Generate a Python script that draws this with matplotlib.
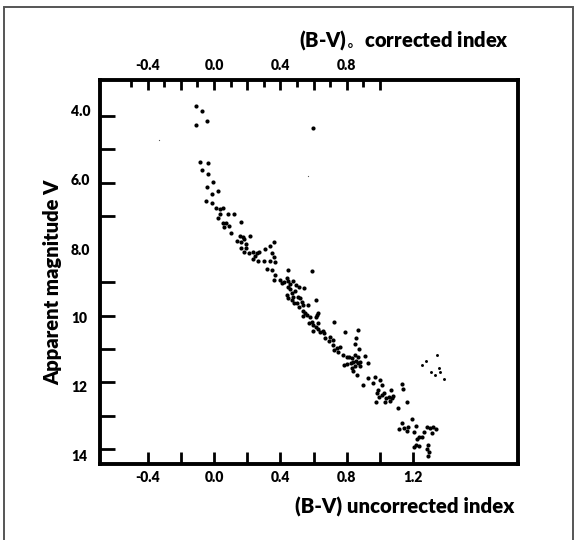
import numpy as np
import matplotlib
matplotlib.use("Agg")
import matplotlib.pyplot as plt
from matplotlib.patches import Rectangle

plt.rcParams['font.family'] = ['Lato', 'DejaVu Sans']
plt.rcParams['font.weight'] = 'heavy'

# (B-V) uncorrected index and apparent magnitude V
bv_bright = [-0.110, -0.070, -0.040, -0.110, 0.598]
v_bright = [3.69, 3.84, 4.15, 4.26, 4.37]

bv_ms = [-0.084, -0.036, -0.075, -0.038, -0.005, -0.040, 0.022, -0.012, -0.051, -0.012,
         0.012, 0.038, 0.054, 0.033, 0.086, 0.122, 0.024, 0.052, 0.071, 0.093,
         0.060, 0.163, 0.102, 0.157, 0.172, 0.183, 0.218, 0.137, 0.161, 0.190,
         0.163, 0.193, 0.181, 0.208, 0.232, 0.257, 0.272, 0.249, 0.237, 0.265,
         0.302, 0.309, 0.336, 0.360, 0.337, 0.351, 0.370, 0.363, 0.320, 0.352,
         0.369, 0.364, 0.395, 0.408, 0.423, 0.438, 0.448, 0.448, 0.458, 0.478,
         0.491, 0.448, 0.458, 0.468, 0.488, 0.438, 0.474, 0.508, 0.518, 0.448,
         0.468, 0.482, 0.498, 0.528, 0.514, 0.538, 0.568, 0.510, 0.544, 0.589,
         0.614, 0.538, 0.548, 0.558, 0.538, 0.578, 0.619, 0.628, 0.614, 0.574,
         0.589, 0.598, 0.614, 0.628, 0.595, 0.628, 0.639, 0.655, 0.663, 0.725,
         0.789, 0.869, 0.669, 0.699, 0.695, 0.719, 0.715, 0.723, 0.739, 0.759,
         0.749, 0.855, 0.849, 0.875, 0.779, 0.799, 0.815, 0.830, 0.849, 0.869,
         0.803, 0.783, 0.823, 0.839, 0.855, 0.880, 0.869, 0.849, 0.830, 0.839,
         0.860, 0.880, 0.910, 0.930, 0.899, 0.930, 0.970, 1.000, 1.010, 0.960,
         0.980, 0.990, 0.996, 0.976, 1.010, 1.024, 1.036, 1.030, 1.056, 1.064,
         1.070, 1.080, 1.060, 1.131, 1.140, 1.110, 1.164,
         1.131, 1.191, 1.116, 1.145, 1.170, 1.161, 1.217, 1.205, 1.285, 1.301,
         1.321, 1.337, 1.311, 1.265, 1.237, 1.225, 1.251, 1.217, 1.205, 1.237,
         1.291, 1.285, 1.297, 1.291]
v_ms = [5.38, 5.42, 5.62, 5.74, 5.99, 6.13, 6.24, 6.35, 6.55, 6.60,
        6.76, 6.80, 6.77, 6.93, 6.93, 6.95, 7.05, 7.20, 7.22, 7.29,
        7.33, 7.19, 7.52, 7.59, 7.64, 7.70, 7.59, 7.75, 7.77, 7.84,
        7.96, 7.97, 8.08, 8.10, 8.07, 8.12, 8.08, 8.20, 8.30, 8.34,
        8.35, 7.99, 7.89, 7.77, 8.34, 8.10, 8.38, 8.24, 8.59, 8.62,
        8.78, 8.94, 8.92, 9.03, 8.98, 8.86, 8.62, 8.97, 9.04, 8.95,
        9.08, 9.13, 9.19, 9.32, 9.26, 9.38, 9.43, 9.43, 9.47, 9.48,
        9.53, 9.63, 9.61, 9.58, 9.73, 9.68, 9.68, 9.13, 9.17, 8.66,
        9.54, 9.85, 9.92, 9.99, 10.02, 10.03, 9.98, 9.92, 10.05, 10.23,
        10.18, 10.28, 10.33, 10.23, 10.45, 10.41, 10.48, 10.45, 10.53, 10.20,
        10.49, 10.43, 10.68, 10.65, 10.76, 10.73, 10.88, 11.03, 10.98, 10.93,
        11.08, 10.68, 10.85, 11.01, 11.18, 11.23, 11.25, 11.28, 11.18, 11.23,
        11.45, 11.48, 11.43, 11.38, 11.35, 11.38, 11.43, 11.51, 11.58, 11.65,
        11.78, 11.51, 11.21, 11.43, 12.08, 11.88, 11.85, 11.93, 12.08, 12.03,
        12.33, 12.23, 12.43, 12.58, 12.38, 12.33, 12.48, 12.58, 12.43, 12.23,
        12.47, 12.42, 12.57, 12.06, 12.21, 12.78, 12.58,
        13.21, 13.10, 13.41, 13.38, 13.35, 13.45, 13.31, 13.48, 13.33, 13.38,
        13.35, 13.41, 13.53, 13.48, 13.65, 13.71, 13.63, 13.88, 13.95, 13.91,
        13.88, 14.01, 14.08, 14.21]

# faint stars to the right (smaller dots)
bv_giants = [1.251, 1.277, 1.345, 1.305, 1.330, 1.357, 1.363, 1.387]
v_giants = [11.48, 11.36, 11.19, 11.70, 11.78, 11.58, 11.70, 11.91]

# stray specks
bv_specks = [-0.334, 0.563]
v_specks = [4.72, 5.80]

bottom_ticks = [-0.4, -0.2, 0.0, 0.2, 0.4, 0.6, 0.8, 1.0, 1.2]
bottom_labels = ["-0.4", "", "0.0", "", "0.4", "", "0.8", "", "1.2"]
top_major = [-0.4, -0.2, 0.0, 0.2, 0.4, 0.6, 0.8, 1.0]
top_labels = ["-0.4", "", "0.0", "", "0.4", "", "0.8", ""]
top_minor = [-0.5, -0.3, -0.1, 0.1, 0.3, 0.5, 0.7, 0.9]
v_ticks = list(range(4, 15))
v_label_pos = [3.84, 5.92, 8.0, 10.05, 12.12, 14.2]
v_labels = ["4.0", "6.0", "8.0", "10", "12", "14"]

fig = plt.figure(figsize=(5.76, 5.4), dpi=100)
fig.patches.append(Rectangle((4/576, -0.05), 569/576, 1.05 - 7/540, transform=fig.transFigure,
                             fill=False, edgecolor='#555555', linewidth=1.4))

ax = fig.add_axes([100/576, 1 - 464/540, 418/576, 384/540])
ax.scatter(bv_ms, v_ms, s=9, c='black', linewidths=0)
ax.scatter(bv_bright, v_bright, s=9, c='black', linewidths=0)
ax.scatter(bv_giants, v_giants, s=4.5, c='black', linewidths=0)
ax.scatter(bv_specks, v_specks, s=0.8, c='#555555', linewidths=0)

ax.set_xlim(-0.687, 1.831)
ax.set_ylim(14.45, 2.92)

for sp in ax.spines.values():
    sp.set_linewidth(2.8)

ax.set_xticks(bottom_ticks, bottom_labels)
ax.tick_params(axis='x', direction='in', length=8.6, width=2, labelsize=10, pad=5)

ax.set_yticks(v_label_pos, v_labels)
ax.set_yticks(v_ticks, minor=True)
ax.tick_params(axis='y', which='major', length=0, labelsize=10, pad=21)
ax.tick_params(axis='y', which='minor', direction='in', length=10.8, width=2)
for t in ax.get_yticklabels():
    t.set_ha('left')

ax2 = ax.twiny()
ax2.set_xlim(ax.get_xlim())
for sp in ax2.spines.values():
    sp.set_visible(False)
ax2.set_xticks(top_major, top_labels)
ax2.set_xticks(top_minor, minor=True)
ax2.tick_params(axis='x', which='major', direction='in', length=7, width=2, labelsize=10, pad=6)
ax2.tick_params(axis='x', which='minor', direction='in', length=5, width=2)

fig.text(514/576, 1 - 507/540, "(B-V) uncorrected index", ha='right', va='center',
         fontsize=14.7, fontweight='heavy')
fig.text(509/576, 1 - 40/540, r"(B-V)$_{\circ}$  corrected index", ha='right', va='center',
         fontsize=14.5, fontweight='heavy')
fig.text(53/576, 1 - 282/540, "Apparent magnitude V", rotation=90, ha='center', va='center',
         fontsize=14.5, fontweight='heavy')

fig.savefig("out.png", dpi=100)
